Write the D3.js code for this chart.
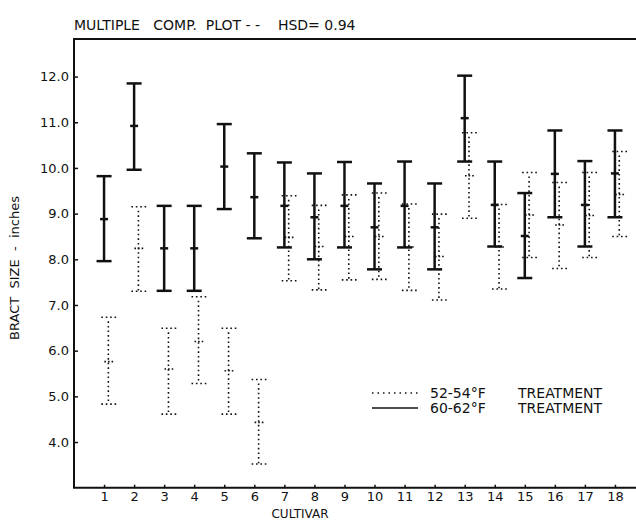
<!DOCTYPE html>
<html>
<head>
<meta charset="utf-8">
<script src="https://cdn.jsdelivr.net/npm/d3@7/dist/d3.min.js"></script>
<style>
  body { margin: 0; background: #fff; }
  text { font-family: "DejaVu Sans", sans-serif; fill: #111; }
</style>
</head>
<body>
<div id="chart"></div>
<script>
// cultivar numbers on the x axis
var cultivars = [1, 2, 3, 4, 5, 6, 7, 8, 9, 10, 11, 12, 13, 14, 15, 16, 17, 18];
var yTicks = [4, 5, 6, 7, 8, 9, 10, 11, 12];

// 60-62°F treatment (solid bars)
var warmMean  = [8.88, 10.92, 8.24, 8.24, 10.03, 9.36, 9.17, 8.92, 9.17, 8.70, 9.17, 8.70, 11.09, 9.19, 8.51, 9.87, 9.19, 9.88];
var warmUpper = [9.82, 11.85, 9.17, 9.17, 10.96, 10.32, 10.12, 9.88, 10.13, 9.66, 10.14, 9.66, 12.02, 10.14, 9.45, 10.82, 10.15, 10.82];
var warmLower = [7.96, 9.96, 7.31, 7.31, 9.10, 8.46, 8.26, 8.00, 8.26, 7.78, 8.26, 7.78, 10.14, 8.28, 7.59, 8.92, 8.28, 8.92];

// 52-54°F treatment (dotted bars)
var coolMean  = [5.76, 8.24, 5.60, 6.20, 5.56, 4.43, 8.48, 8.28, 8.50, 8.50, 8.27, 8.06, 9.83, 8.27, 8.97, 8.75, 8.96, 9.42];
var coolUpper = [6.73, 9.15, 6.49, 7.18, 6.49, 5.37, 9.39, 9.18, 9.41, 9.45, 9.21, 8.99, 10.77, 9.20, 9.90, 9.68, 9.90, 10.36];
var coolLower = [4.83, 7.30, 4.61, 5.28, 4.61, 3.52, 7.53, 7.33, 7.55, 7.56, 7.32, 7.11, 8.90, 7.35, 8.04, 7.80, 8.04, 8.50];

var width = 636, height = 520;
var left = 74, bottom = 487.7, frameTop = 39;

var svg = d3.select("#chart").append("svg")
    .attr("width", width)
    .attr("height", height);

var x = d3.scaleLinear().domain([0, 19]).range([left, 645]);
var y = d3.scaleLinear().domain([3, 13]).range([bottom, 30.9]);

// title
svg.append("text")
    .attr("x", left)
    .attr("y", 30)
    .attr("font-size", "14px")
    .attr("xml:space", "preserve")
    .style("white-space", "pre")
    .text("MULTIPLE   COMP.  PLOT - -    HSD= 0.94");

// axes (ticks point inward)
var yAxis = d3.axisLeft(y).tickValues(yTicks).tickSizeInner(-4).tickSizeOuter(0).tickPadding(5)
    .tickFormat(d3.format(".1f"));
svg.append("g")
    .attr("transform", "translate(" + left + ",0)")
    .call(yAxis)
    .call(g => g.select(".domain").remove())
    .call(g => g.selectAll("line").attr("stroke", "#111").attr("stroke-width", 1.5))
    .call(g => g.selectAll("text").attr("font-size", "13px").attr("font-family", "DejaVu Sans, sans-serif"));

var xAxis = d3.axisBottom(x).tickValues(cultivars).tickSizeInner(-3).tickSizeOuter(0).tickPadding(4);
svg.append("g")
    .attr("transform", "translate(0," + bottom + ")")
    .call(xAxis)
    .call(g => g.select(".domain").remove())
    .call(g => g.selectAll("line").attr("stroke", "#111").attr("stroke-width", 1.5))
    .call(g => g.selectAll("text").attr("font-size", "13px").attr("font-family", "DejaVu Sans, sans-serif"));

// frame: left, bottom, top
svg.append("path")
    .attr("d", "M" + width + "," + frameTop + "H" + left + "V" + bottom + "H" + width)
    .attr("fill", "none")
    .attr("stroke", "#111")
    .attr("stroke-width", 2);

// axis titles
svg.append("text")
    .attr("transform", "translate(19,268) rotate(-90)")
    .attr("text-anchor", "middle")
    .attr("font-size", "13px")
    .attr("xml:space", "preserve")
    .style("white-space", "pre")
    .text("BRACT  SIZE  -  inches");

svg.append("text")
    .attr("x", 300)
    .attr("y", 518)
    .attr("text-anchor", "middle")
    .attr("font-size", "12px")
    .text("CULTIVAR");

// solid intervals
var warm = svg.append("g").attr("class", "warm");
cultivars.forEach(function (c, i) {
    var cx = x(c);
    var g = warm.append("g").attr("stroke", "#111").attr("stroke-width", 2.5);
    g.append("line").attr("x1", cx).attr("x2", cx).attr("y1", y(warmUpper[i])).attr("y2", y(warmLower[i]));
    g.append("line").attr("x1", cx - 7.5).attr("x2", cx + 7.5).attr("y1", y(warmUpper[i])).attr("y2", y(warmUpper[i]));
    g.append("line").attr("x1", cx - 7.5).attr("x2", cx + 7.5).attr("y1", y(warmLower[i])).attr("y2", y(warmLower[i]));
    g.append("line").attr("x1", cx - 4).attr("x2", cx + 4).attr("y1", y(warmMean[i])).attr("y2", y(warmMean[i]));
});

// dotted intervals
var cool = svg.append("g").attr("class", "cool");
cultivars.forEach(function (c, i) {
    var cx = x(c) + 4.3;
    var g = cool.append("g").attr("stroke", "#111").attr("stroke-width", 1.6).attr("fill", "none");
    g.append("line").attr("x1", cx).attr("x2", cx)
        .attr("y1", y(coolUpper[i]) + 4).attr("y2", y(coolLower[i]))
        .attr("stroke-dasharray", "1.6,3");
    [coolUpper[i], coolLower[i]].forEach(function (v) {
        g.append("line").attr("x1", cx - 7).attr("x2", cx + 8).attr("y1", y(v)).attr("y2", y(v))
            .attr("stroke-dasharray", "1.6,2.8");
    });
    // small mark at the mean
    g.append("line").attr("x1", cx - 4).attr("x2", cx + 5).attr("y1", y(coolMean[i])).attr("y2", y(coolMean[i]))
        .attr("stroke-dasharray", "1.6,2");
});

// legend
var legend = svg.append("g").attr("font-size", "14px");
legend.append("line").attr("x1", 372).attr("x2", 418).attr("y1", 393).attr("y2", 393)
    .attr("stroke", "#111").attr("stroke-width", 1.4).attr("stroke-dasharray", "1.5,4");
legend.append("line").attr("x1", 372).attr("x2", 418).attr("y1", 408).attr("y2", 408)
    .attr("stroke", "#111").attr("stroke-width", 1.4);
legend.append("text").attr("x", 430).attr("y", 398).text("52-54°F");
legend.append("text").attr("x", 518).attr("y", 398).text("TREATMENT");
legend.append("text").attr("x", 430).attr("y", 413).text("60-62°F");
legend.append("text").attr("x", 518).attr("y", 413).text("TREATMENT");
</script>
</body>
</html>
